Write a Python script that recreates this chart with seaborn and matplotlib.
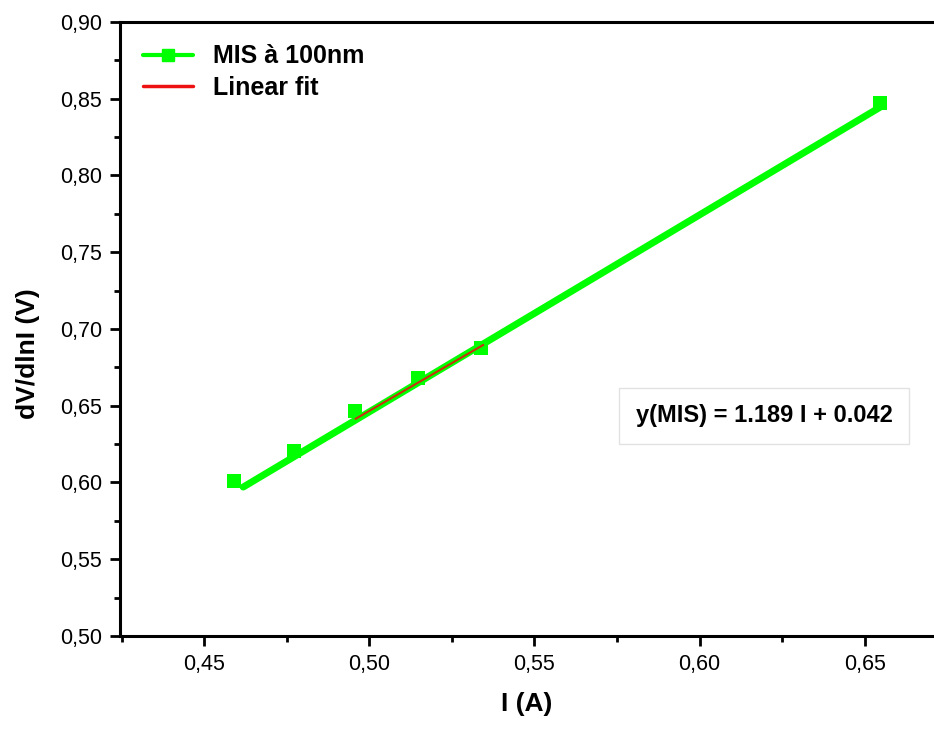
import numpy as np
import pandas as pd
import matplotlib
matplotlib.use("Agg")
import matplotlib.pyplot as plt
import seaborn as sns
from matplotlib.lines import Line2D
from matplotlib.ticker import MultipleLocator, FixedLocator

# Datos
corriente = [0.459, 0.4773, 0.4958, 0.5148, 0.5339, 0.6545]
dv_dlni = [0.601, 0.6205, 0.6466, 0.668, 0.6876, 0.847]

# Linea verde (trazo grueso) y ajuste lineal (rojo)
linea_x = [0.4618, 0.6548]
linea_y = [0.597, 0.8446]
ajuste_x = [0.4958, 0.5345]
ajuste_y = [0.6414, 0.6896]

xticks = [0.45, 0.50, 0.55, 0.60, 0.65]
xtick_labels = ["0,45", "0,50", "0,55", "0,60", "0,65"]
yticks = [0.50, 0.55, 0.60, 0.65, 0.70, 0.75, 0.80, 0.85, 0.90]
ytick_labels = ["0,50", "0,55", "0,60", "0,65", "0,70", "0,75", "0,80", "0,85", "0,90"]

sns.set_style("ticks")
plt.rcParams['font.family'] = ['Liberation Sans', 'DejaVu Sans']
plt.rcParams['text.color'] = 'black'
plt.rcParams['axes.labelcolor'] = 'black'
plt.rcParams['xtick.color'] = 'black'
plt.rcParams['ytick.color'] = 'black'

verde = "#00ff00"
rojo = "#ee1111"

fig = plt.figure(figsize=(9.34, 7.31), dpi=100)
ax = fig.add_axes([0.1285, 0.13, 0.8715, 0.84])

sns.lineplot(x=linea_x, y=linea_y, color=verde, linewidth=5, ax=ax,
             solid_capstyle='round')
sns.scatterplot(x=corriente, y=dv_dlni, color=verde, marker='s', s=110,
                edgecolor=verde, linewidth=0, ax=ax, zorder=3)
sns.lineplot(x=ajuste_x, y=ajuste_y, color="#c83010", linewidth=1.5, ax=ax, zorder=4)

ax.set_xlim(0.4245, 0.671)
ax.set_ylim(0.50, 0.90)

ax.xaxis.set_major_locator(FixedLocator(xticks))
ax.set_xticklabels(xtick_labels)
ax.yaxis.set_major_locator(FixedLocator(yticks))
ax.set_yticklabels(ytick_labels)
ax.xaxis.set_minor_locator(MultipleLocator(0.025))
ax.yaxis.set_minor_locator(MultipleLocator(0.025))

ax.tick_params(which='major', direction='out', length=7, width=2,
               labelsize=15.5, top=False, right=False, pad=6)
ax.tick_params(which='minor', direction='out', length=4, width=2,
               top=False, right=False)

for lado in ['left', 'bottom', 'top']:
    ax.spines[lado].set_linewidth(2.2)
    ax.spines[lado].set_color('black')
ax.spines['right'].set_visible(False)

ax.set_xlabel("I (A)", fontsize=19, fontweight='bold', labelpad=12)
ax.set_ylabel("dV/dlnI (V)", fontsize=19, fontweight='bold')
ax.yaxis.set_label_coords(-0.098, 0.46)

handles = [
    Line2D([0], [0], color=verde, linewidth=3, marker='s', markersize=8),
    Line2D([0], [0], color=rojo, linewidth=2.5),
]
ax.legend(handles, ["MIS à 100nm", "Linear fit"], loc='upper left',
          frameon=False, prop={'weight': 'bold', 'size': 18},
          handlelength=2.0, handletextpad=0.8, borderaxespad=0.5,
          labelspacing=0.3, bbox_to_anchor=(0.0, 1.0))

ax.text(0.6195, 0.6435, "y(MIS) = 1.189 I + 0.042", fontsize=17,
        fontweight='bold', ha='center', va='center',
        bbox=dict(boxstyle='square,pad=0.7', facecolor='white',
                  edgecolor='#e2e2e2', linewidth=1))

fig.savefig("out.png", dpi=100)
